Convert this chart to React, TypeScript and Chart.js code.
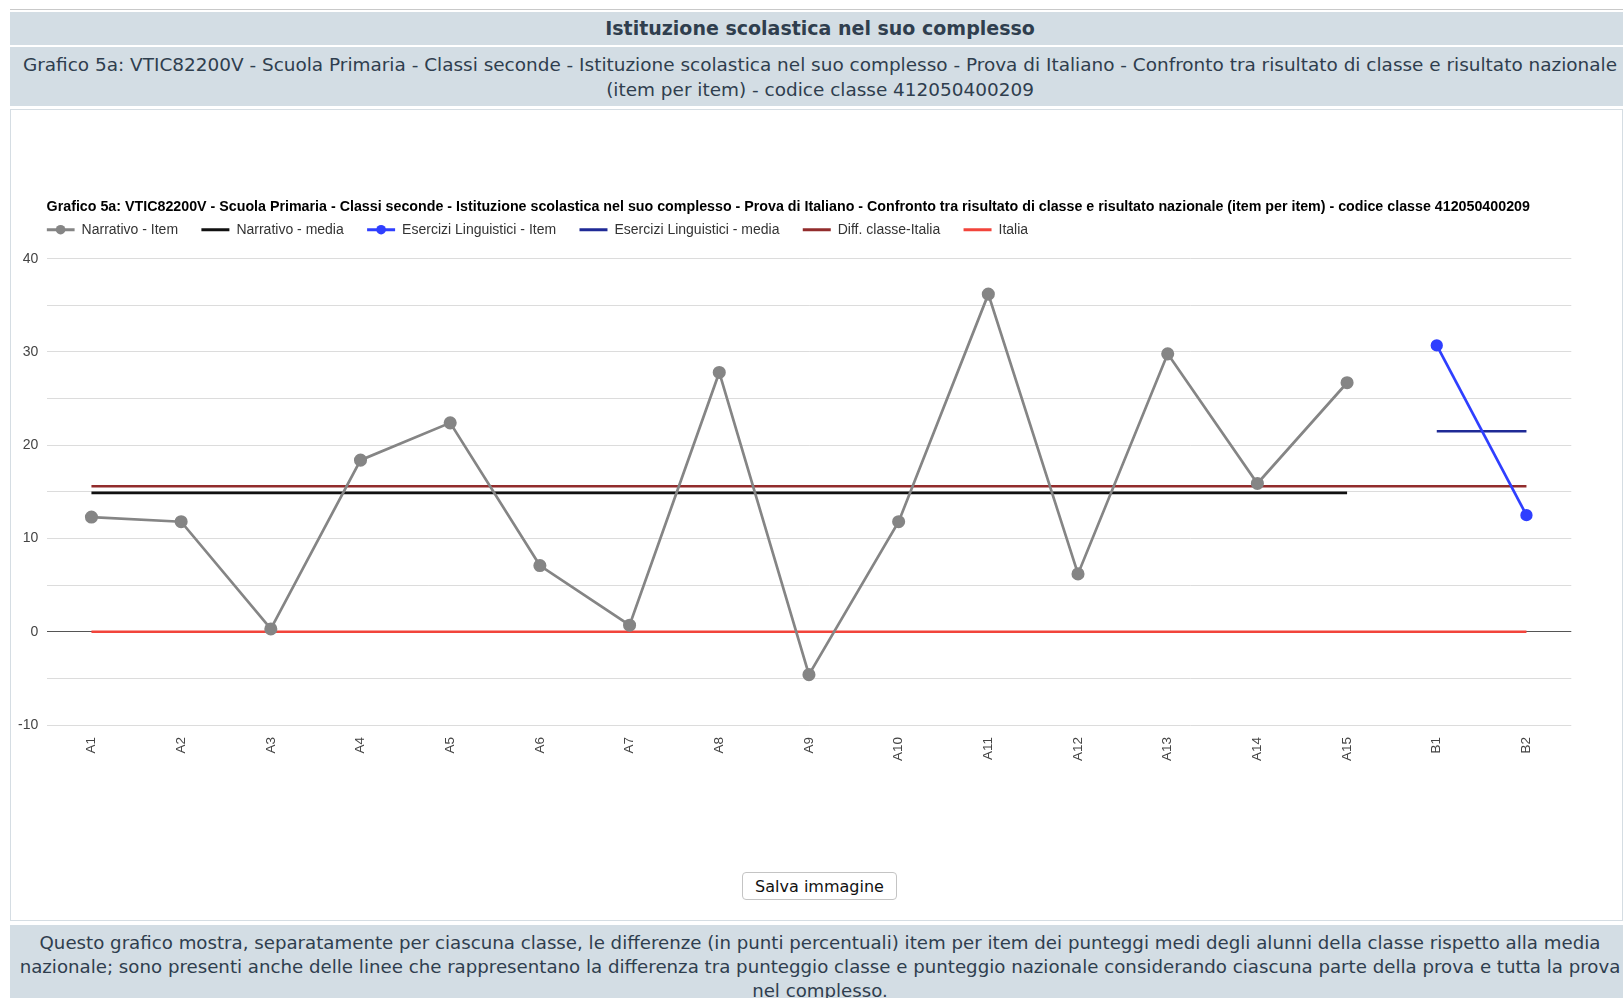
import React, { useEffect, useRef } from "react";
import { Chart, registerables } from "chart.js";

Chart.register(...registerables);

const categories = ["A1", "A2", "A3", "A4", "A5", "A6", "A7", "A8", "A9", "A10", "A11", "A12", "A13", "A14", "A15", "B1", "B2"];
const narrativoItem = [12.3, 11.8, 0.3, 18.4, 22.4, 7.1, 0.7, 27.8, -4.6, 11.8, 36.2, 6.2, 29.8, 15.9, 26.7, null, null];
const narrativoMedia = [14.9, 14.9, 14.9, 14.9, 14.9, 14.9, 14.9, 14.9, 14.9, 14.9, 14.9, 14.9, 14.9, 14.9, 14.9, null, null];
const eserciziItem = [null, null, null, null, null, null, null, null, null, null, null, null, null, null, null, 30.7, 12.5];
const eserciziMedia = [null, null, null, null, null, null, null, null, null, null, null, null, null, null, null, 21.5, 21.5];
const diffClasseItalia = [15.6, 15.6, 15.6, 15.6, 15.6, 15.6, 15.6, 15.6, 15.6, 15.6, 15.6, 15.6, 15.6, 15.6, 15.6, 15.6, 15.6];
const italia = [0, 0, 0, 0, 0, 0, 0, 0, 0, 0, 0, 0, 0, 0, 0, 0, 0];
const seriesNames = ["Narrativo - Item", "Narrativo - media", "Esercizi Linguistici - Item", "Esercizi Linguistici - media", "Diff. classe-Italia", "Italia"];
const yMin = -10;
const yMax = 40;
const yStep = 5;
const yLabelStep = 10;

const chartTitle = "Grafico 5a: VTIC82200V - Scuola Primaria - Classi seconde - Istituzione scolastica nel suo complesso - Prova di Italiano - Confronto tra risultato di classe e risultato nazionale (item per item) - codice classe 412050400209";
const headerTitle = "Istituzione scolastica nel suo complesso";
const headerLine1 = "Grafico 5a: VTIC82200V - Scuola Primaria - Classi seconde - Istituzione scolastica nel suo complesso - Prova di Italiano - Confronto tra risultato di classe e risultato nazionale";
const headerLine2 = "(item per item) - codice classe 412050400209";
const footLine1 = "Questo grafico mostra, separatamente per ciascuna classe, le differenze (in punti percentuali) item per item dei punteggi medi degli alunni della classe rispetto alla media";
const footLine2 = "nazionale; sono presenti anche delle linee che rappresentano la differenza tra punteggio classe e punteggio nazionale considerando ciascuna parte della prova e tutta la prova";
const footLine3 = "nel complesso.";

const chartFont = '"Liberation Sans", Arial, Helvetica, sans-serif';
const pageFont = '"DejaVu Sans", Verdana, sans-serif';
const bandBg = "#d3dde4";
const textColor = "#2f3e4e";
const legendFontSize = 14;
const legendGap = "      ";

const legendMarkers = {
  id: "legendMarkers",
  afterDraw(chart: any) {
    const legend = chart.legend;
    if (!legend || !legend.legendHitBoxes) return;
    const ctx = chart.ctx;
    const bw = legend.options.labels.boxWidth;
    legend.legendItems.forEach((item: any, i: number) => {
      const ds = chart.data.datasets[item.datasetIndex];
      if (!ds || !ds.pointRadius) return;
      const hb = legend.legendHitBoxes[i];
      ctx.save();
      ctx.beginPath();
      ctx.fillStyle = ds.borderColor;
      ctx.arc(hb.left + bw / 2, hb.top + legendFontSize / 2, 4.8, 0, Math.PI * 2);
      ctx.fill();
      ctx.restore();
    });
  },
};

export default function App() {
  const ref = useRef<HTMLCanvasElement | null>(null);

  useEffect(() => {
    if (!ref.current) return;
    const mk = (label: string, data: any[], color: string, radius: number) => ({
      label,
      data,
      borderColor: color,
      backgroundColor: color,
      pointBackgroundColor: color,
      pointBorderColor: color,
      borderWidth: 2.7,
      pointRadius: radius,
      pointHoverRadius: radius,
      spanGaps: false,
      tension: 0,
      fill: false,
    });
    const chart = new Chart(ref.current, {
      type: "line",
      data: {
        labels: categories,
        datasets: [
          mk(seriesNames[0], narrativoItem, "#858585", 5.2),
          mk(seriesNames[1], narrativoMedia, "#111111", 0),
          mk(seriesNames[2], eserciziItem, "#2f3fff", 4.8),
          mk(seriesNames[3], eserciziMedia, "#1f2a96", 0),
          mk(seriesNames[4], diffClasseItalia, "#922c2c", 0),
          mk(seriesNames[5], italia, "#f2443b", 0),
        ] as any,
      },
      options: {
        animation: false,
        responsive: false,
        maintainAspectRatio: false,
        events: [],
        layout: { padding: { left: 0, right: 51.7, top: 0, bottom: 0 } },
        plugins: {
          title: {
            display: true,
            fullSize: false,
            text: chartTitle,
            align: "start",
            color: "#000",
            font: { family: chartFont, size: 14.25, weight: "bold", lineHeight: 1.2 },
            padding: { top: 12.4, bottom: 7.2 },
          },
          subtitle: {
            display: true,
            fullSize: false,
            text: "",
            weight: 500,
            font: { size: 1, lineHeight: 1 },
            padding: { top: 11, bottom: 0 },
          } as any,
          legend: {
            display: true,
            fullSize: false,
            align: "start",
            labels: {
              boxWidth: 28,
              boxHeight: 3,
              padding: 0,
              color: "#333",
              font: { family: chartFont, size: legendFontSize },
              generateLabels: (c: any) =>
                c.data.datasets.map((ds: any, i: number) => ({
                  text: ds.label + legendGap,
                  fillStyle: ds.borderColor,
                  strokeStyle: ds.borderColor,
                  lineWidth: 0,
                  hidden: false,
                  datasetIndex: i,
                  fontColor: "#333",
                })),
            },
          } as any,
          tooltip: { enabled: false },
        },
        scales: {
          x: {
            offset: true,
            grid: { display: false, drawTicks: false },
            border: { display: false },
            ticks: {
              minRotation: 90,
              maxRotation: 90,
              autoSkip: false,
              padding: 12,
              color: "#444",
              font: { family: chartFont, size: 13.5 },
            },
            afterFit: (s: any) => {
              s.height = 50;
            },
          },
          y: {
            min: yMin,
            max: yMax,
            border: { display: false },
            grid: {
              drawTicks: false,
              lineWidth: 1,
              color: (ctx: any) => (ctx.tick && ctx.tick.value === 0 ? "#555" : "#dcdcdc"),
            },
            ticks: {
              stepSize: yStep,
              padding: 8.3,
              color: "#444",
              font: { family: chartFont, size: 14 },
              callback: (v: any) => (Number(v) % yLabelStep === 0 ? String(v) : ""),
            },
            afterFit: (s: any) => {
              s.width = 34.6;
            },
          },
        },
      } as any,
      plugins: [legendMarkers],
    });
    return () => chart.destroy();
  }, []);

  const band: React.CSSProperties = {
    position: "absolute",
    left: 10,
    width: 1613,
    background: bandBg,
    color: textColor,
    fontFamily: pageFont,
    fontSize: 18.3,
    whiteSpace: "nowrap",
    boxSizing: "border-box",
  };
  const inner: React.CSSProperties = { width: 1620, textAlign: "center" };

  return (
    <div style={{ position: "absolute", left: 0, top: 0, width: 1623, height: 998, overflow: "hidden", background: "#fff" }}>
      <div style={{ position: "absolute", left: 10, top: 9, width: 1613, height: 1, background: "#c9c9c9" }} />
      <div style={{ ...band, top: 12, height: 32.5, lineHeight: "32.5px", fontWeight: "bold", fontSize: 19 }}>
        <div style={inner}>{headerTitle}</div>
      </div>
      <div style={{ ...band, top: 47, height: 58.5, lineHeight: "24.8px", paddingTop: 5.8, fontSize: 18.45 }}>
        <div style={inner}>
          {headerLine1}
          <br />
          {headerLine2}
        </div>
      </div>
      <div style={{ position: "absolute", left: 10, top: 109, width: 1613, height: 812, border: "1px solid #d5dde3", boxSizing: "border-box", background: "#fff" }} />
      <canvas ref={ref} width={1611} height={589} style={{ position: "absolute", left: 12, top: 186, width: 1611, height: 589 }} />
      <button
        style={{
          position: "absolute",
          left: 742,
          top: 872,
          width: 155,
          height: 28,
          background: "#fff",
          border: "1px solid #c4c4c4",
          borderRadius: 4,
          fontFamily: pageFont,
          fontSize: 16,
          color: "#111",
          padding: 0,
        }}
      >
        Salva immagine
      </button>
      <div style={{ ...band, top: 925, height: 73, lineHeight: "24.2px", paddingTop: 6, fontSize: 18.2 }}>
        <div style={inner}>
          {footLine1}
          <br />
          {footLine2}
          <br />
          {footLine3}
        </div>
      </div>
    </div>
  );
}
